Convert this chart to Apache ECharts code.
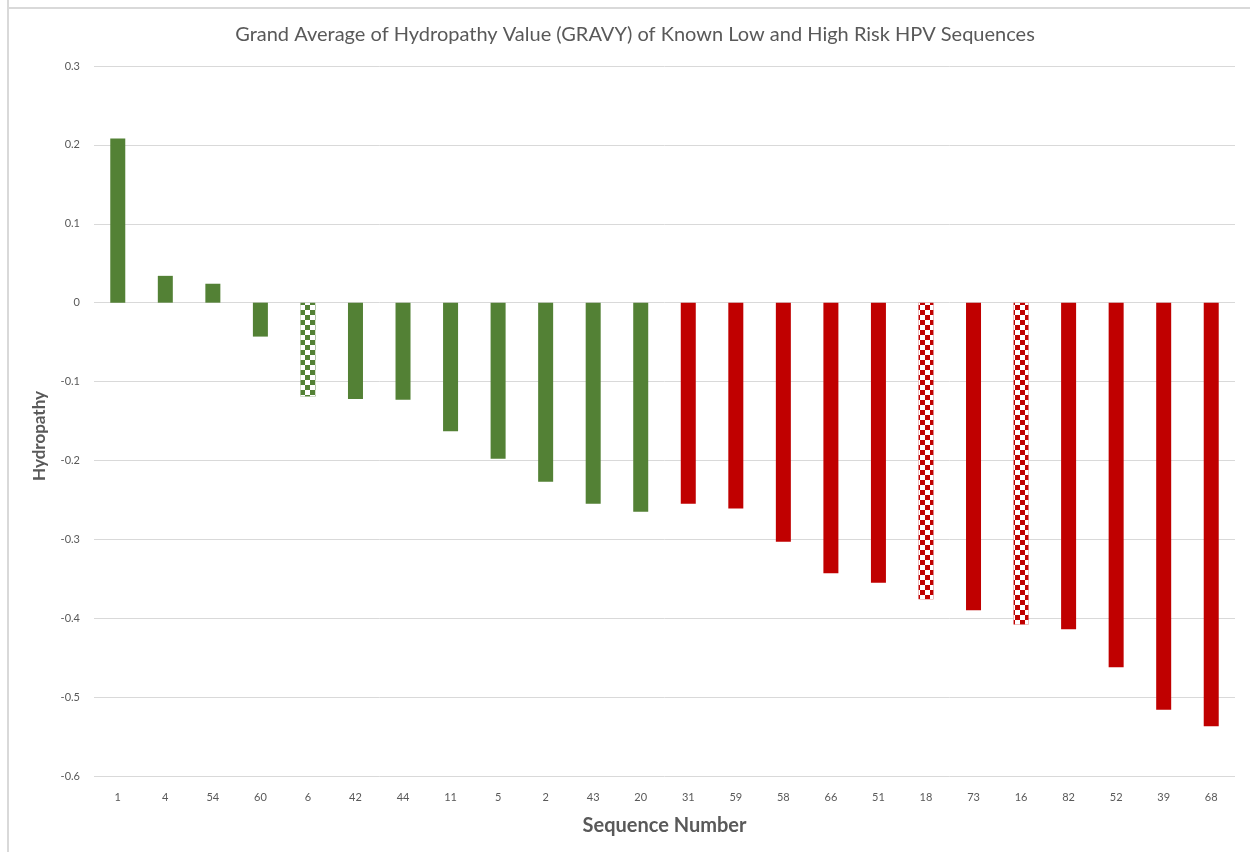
<!DOCTYPE html>
<html>
<head>
<meta charset="utf-8">
<script src="https://cdn.jsdelivr.net/npm/echarts@6/dist/echarts.min.js"></script>
<style>
html, body { margin: 0; padding: 0; background: #fff; }
#chart { width: 1250px; height: 852px; }
</style>
</head>
<body>
<div id="chart"></div>
<script>
// sequence numbers along the x axis
var sequences = ['1','4','54','60','6','42','44','11','5','2','43','20','31','59','58','66','51','18','73','16','82','52','39','68'];
// GRAVY value per sequence
var gravy = [0.208, 0.034, 0.024, -0.043, -0.119, -0.122, -0.123, -0.163, -0.198, -0.227, -0.255, -0.265,
             -0.255, -0.261, -0.303, -0.343, -0.355, -0.376, -0.390, -0.408, -0.414, -0.462, -0.516, -0.537];
// risk group: 'low' or 'high'
var risk = ['low','low','low','low','low','low','low','low','low','low','low','low',
            'high','high','high','high','high','high','high','high','high','high','high','high'];
// checkered bars
var patterned = ['6','18','16'];

var colors = { low: '#538135', high: '#C00000' };

var checker = {
    symbol: 'rect',
    symbolSize: 1,
    color: '#ffffff',
    dashArrayX: [[5, 5], [0, 5, 5, 0]],
    dashArrayY: [5, 0],
    rotation: 0
};

var seriesData = gravy.map(function (v, i) {
    var item = { value: v, itemStyle: { color: colors[risk[i]] } };
    if (patterned.indexOf(sequences[i]) >= 0) {
        item.itemStyle.decal = checker;
    }
    return item;
});

var myChart = echarts.init(document.getElementById('chart'));
var font = 'Lato, "Open Sans", sans-serif';

var option = {
    backgroundColor: '#fff',
    animation: false,
    aria: { enabled: true, decal: { show: false } },
    title: {
        text: 'Grand Average of Hydropathy Value (GRAVY) of Known Low and High Risk HPV Sequences',
        left: 630,
        textAlign: 'center',
        top: 20,
        textStyle: { fontFamily: font, fontSize: 20, fontWeight: 'normal', color: '#595959' }
    },
    graphic: [
        { type: 'line', shape: { x1: 8, y1: 0, x2: 8, y2: 852 }, style: { stroke: '#d9d9d9', lineWidth: 2 } },
        { type: 'line', shape: { x1: 8, y1: 8, x2: 1250, y2: 8 }, style: { stroke: '#d9d9d9', lineWidth: 2 } }
    ],
    grid: { left: 94, right: 15, top: 66, bottom: 76 },
    xAxis: {
        type: 'category',
        data: sequences,
        position: 'bottom',
        axisLine: { show: false, onZero: false },
        axisTick: { show: false },
        axisLabel: { fontFamily: font, fontSize: 11, color: '#595959', margin: 16 },
        name: 'Sequence Number',
        nameLocation: 'middle',
        nameGap: 40,
        nameTextStyle: { fontFamily: font, fontSize: 20, fontWeight: 'bold', color: '#595959' }
    },
    yAxis: {
        type: 'value',
        min: -0.6,
        max: 0.3,
        interval: 0.1,
        axisLine: { show: false },
        axisTick: { show: false },
        splitLine: { lineStyle: { color: '#d9d9d9', width: 1 } },
        axisLabel: {
            fontFamily: font, fontSize: 11, color: '#595959', margin: 14,
            formatter: function (v) { return String(Math.round(v * 10) / 10); }
        },
        name: 'Hydropathy',
        nameLocation: 'middle',
        nameGap: 46,
        nameTextStyle: { fontFamily: font, fontSize: 17, fontWeight: 'bold', color: '#595959', padding: [0, 30, 0, 0] }
    },
    series: [
        {
            type: 'bar',
            barWidth: 15,
            data: seriesData
        }
    ]
};

myChart.setOption(option);
</script>
</body>
</html>
